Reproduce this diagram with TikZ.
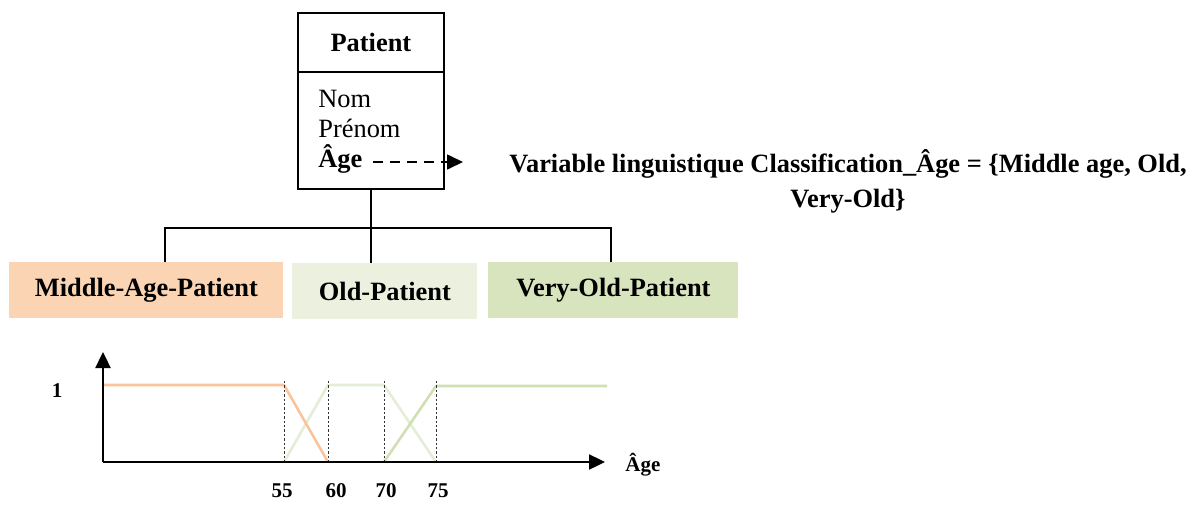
\documentclass[tikz,border=0pt]{standalone}
\usepackage{fontspec}
\setmainfont{Liberation Serif}
\usepackage{xcolor}
\usetikzlibrary{arrows.meta, positioning, calc}
\definecolor{ptPeach}{RGB}{251,212,180}
\definecolor{ptPeachLine}{RGB}{249,196,156}
\definecolor{ptPale}{RGB}{235,241,222}
\definecolor{ptPaleLine}{RGB}{228,237,214}
\definecolor{ptSage}{RGB}{215,228,189}
\definecolor{ptSageLine}{RGB}{208,224,178}
\definecolor{ptInk}{RGB}{0,0,0}

\begin{document}
\begin{tikzpicture}[x=0.5pt,y=-0.5pt,
  font=\fontsize{13.2}{17.5}\selectfont,
  hdr/.style={draw=ptInk,line width=0.9pt,minimum width=73pt,minimum height=29.5pt,
              anchor=north west,inner sep=0pt,font=\fontsize{13.2}{17.5}\selectfont\bfseries},
  attbox/.style={draw=ptInk,line width=0.9pt,minimum width=73pt,minimum height=58.5pt,
                 anchor=north west,inner sep=0pt},
  attr/.style={anchor=base west,inner sep=0pt},
  cls/.style={draw=none,minimum height=28pt,anchor=north west,inner sep=0pt,
              font=\fontsize{13.2}{17.5}\selectfont\bfseries},
  link/.style={draw=ptInk,line width=0.75pt},
  dasharr/.style={draw=ptInk,line width=0.85pt,dash pattern=on 5pt off 3.5pt,
                  -{Triangle[length=8pt,width=7.5pt]},shorten <=5pt},
  axis/.style={draw=ptInk,line width=1.2pt,-{Triangle[length=8pt,width=7.5pt]}},
  guide/.style={draw=ptInk!80,line width=0.35pt,dash pattern=on 1.2pt off 1pt},
  mf/.style={line width=1.3pt,line join=round},
  tick/.style={anchor=base,inner sep=0pt,font=\fontsize{10.5}{12}\selectfont\bfseries}]
\useasboundingbox (0,0) rectangle (1200,504);

% ===== Class Patient =====
\node[hdr] (pat) at (297,12) {Patient};
\node[attbox] (att) at (297,71) {};
\node[attr] (nom) at (318,107) {Nom};
\node[attr] (pren) at (318,137) {Prénom};
\node[attr,font=\fontsize{13.2}{17.5}\selectfont\bfseries] (agef) at (318,167) {Âge};

% ===== Linguistic variable =====
\coordinate (tipA) at (463,162);
\draw[dasharr] (agef.east |- tipA) -- (tipA);
\node[align=center,inner sep=0pt,font=\fontsize{13.2}{17.5}\selectfont\bfseries] (ling) at (848,181)
  {Variable linguistique Classification\_Âge = \{Middle age, Old,\\ Very-Old\}};

% ===== Sub-classes =====
\node[cls,fill=ptPeach,minimum width=137pt] (mid) at (9,262) {Middle-Age-Patient};
\node[cls,fill=ptPale,minimum width=92.5pt] (old) at (292,263) {Old-Patient};
\node[cls,fill=ptSage,minimum width=125pt] (vold) at (488,262) {Very-Old-Patient};

\coordinate (barL) at (165,228);
\coordinate (barR) at (611,228);
\draw[link] (att.south) -- (att.south |- old.north);
\draw[link] (mid.north -| barL) -- (barL) -- (barR) -- (vold.north -| barR);

% ===== Membership functions =====
\coordinate (o) at (103,462);
\draw[mf,ptPaleLine] (284,462) -- (328,385) -- (384,385) -- (436,462);
\draw[mf,ptPeachLine] (104,385) -- (284,385) -- (328,462);
\draw[mf,ptSageLine] (384,462) -- (436,386) -- (607,386);
\foreach \xx/\lx/\lab in {284/282/55,328/336/60,384/386/70,436/438/75}
  {\draw[guide] (\xx,381) -- (\xx,462);
   \node[tick] (t\lab) at (\lx,497) {\lab};}
\draw[axis] (o) -- (103,352);
\draw[axis] (o) -- (605,462);
\node[tick] (one) at (57,397) {1};
\node[tick,anchor=base west] (xlab) at (625,471) {Âge};
\end{tikzpicture}
\end{document}
